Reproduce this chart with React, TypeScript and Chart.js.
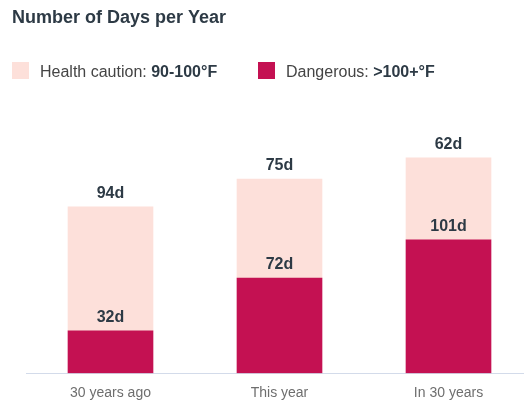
import React, { useEffect, useRef } from "react";
import { Chart, registerables } from "chart.js";

Chart.register(...registerables);

const categories = ["30 years ago", "This year", "In 30 years"];
const dangerousDays = [32, 72, 101];
const cautionDays = [94, 75, 62];

const TITLE = "Number of Days per Year";
const DARK_TEXT = "#2d3a45";
const LIGHT_COLOR = "#fde0da";
const DARK_COLOR = "#c41152";
const FONT = '"Liberation Sans", Arial, Helvetica, sans-serif';

const headerPlugin = {
  id: "header",
  afterDraw(chart: any) {
    const ctx = chart.ctx;
    ctx.save();
    ctx.textBaseline = "alphabetic";
    ctx.textAlign = "left";
    ctx.fillStyle = DARK_TEXT;
    ctx.font = `bold 18px ${FONT}`;
    ctx.fillText(TITLE, 12, 23);

    const items = [
      { color: LIGHT_COLOR, label: "Health caution: ", bold: "90-100°F", x: 12 },
      { color: DARK_COLOR, label: "Dangerous: ", bold: ">100+°F", x: 258 },
    ];
    for (const it of items) {
      ctx.fillStyle = it.color;
      ctx.fillRect(it.x, 62, 17, 17);
      ctx.font = `16px ${FONT}`;
      ctx.fillStyle = "#444444";
      const tx = it.x + 28;
      ctx.fillText(it.label, tx, 77);
      const w = ctx.measureText(it.label).width;
      ctx.font = `bold 16px ${FONT}`;
      ctx.fillStyle = DARK_TEXT;
      ctx.fillText(it.bold, tx + w, 77);
    }
    ctx.restore();
  },
};

const labelPlugin = {
  id: "barLabels",
  afterDatasetsDraw(chart: any) {
    const ctx = chart.ctx;
    ctx.save();
    ctx.font = `bold 16px ${FONT}`;
    ctx.fillStyle = DARK_TEXT;
    ctx.textAlign = "center";
    ctx.textBaseline = "alphabetic";
    chart.data.datasets.forEach((ds: any, di: number) => {
      const meta = chart.getDatasetMeta(di);
      meta.data.forEach((bar: any, i: number) => {
        ctx.fillText(`${ds.data[i]}d`, bar.x, bar.y - 9);
      });
    });
    ctx.restore();
  },
};

export default function App() {
  const canvasRef = useRef<HTMLCanvasElement | null>(null);

  useEffect(() => {
    document.documentElement.style.overflow = "hidden";
    document.body.style.overflow = "hidden";
    const chart = new Chart(canvasRef.current as HTMLCanvasElement, {
      type: "bar",
      data: {
        labels: categories,
        datasets: [
          {
            label: "Dangerous: >100+°F",
            data: dangerousDays,
            backgroundColor: DARK_COLOR,
            barThickness: 85,
          },
          {
            label: "Health caution: 90-100°F",
            data: cautionDays,
            backgroundColor: LIGHT_COLOR,
            barThickness: 85,
          },
        ],
      },
      options: {
        animation: false,
        responsive: true,
        maintainAspectRatio: false,
        devicePixelRatio: 1,
        layout: { padding: { top: 109, left: 26, right: 7, bottom: -9 } },
        plugins: {
          legend: { display: false },
          title: { display: false },
          tooltip: { enabled: false },
        },
        scales: {
          x: {
            stacked: true,
            grid: { display: false, drawTicks: false },
            border: { display: true, color: "#d3dbea", width: 1 },
            ticks: {
              padding: 12,
              color: "#6e6e6e",
              font: { family: FONT, size: 14 },
            },
          },
          y: {
            stacked: true,
            display: false,
            min: 0,
            max: 200,
          },
        },
      },
      plugins: [headerPlugin, labelPlugin],
    });
    return () => chart.destroy();
  }, []);

  return (
    <div
      style={{
        position: "fixed",
        left: 0,
        top: 0,
        width: "540px",
        height: "405px",
        background: "#ffffff",
      }}
    >
      <canvas ref={canvasRef} />
    </div>
  );
}
